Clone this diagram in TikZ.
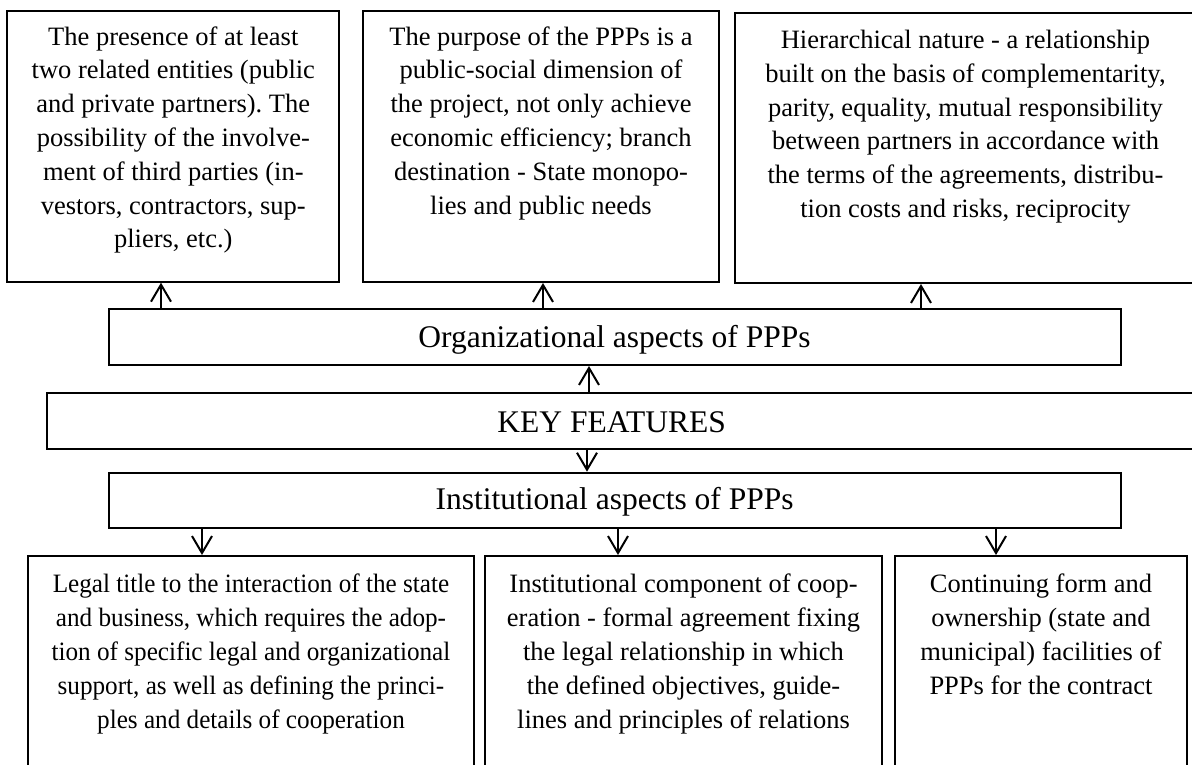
\documentclass[tikz,border=0pt]{standalone}
\usepackage{fontspec}
\setmainfont{Liberation Serif}
\newfontfamily\narrowserif[FakeStretch=0.95]{Liberation Serif}
\usetikzlibrary{arrows.meta}
\frenchspacing

\begin{document}
\begin{tikzpicture}[x=1pt,y=-1pt,
  frame/.style={draw, line width=2pt, inner sep=0pt},
  body/.style={align=center, inner sep=0pt, anchor=north,
    font=\fontsize{26.5}{33.8}\selectfont},
  narrowbody/.style={body, font=\narrowserif\fontsize{26.5}{33.8}\selectfont},
  head/.style={anchor=base, inner sep=0pt, font=\fontsize{31.5}{36}\selectfont},
  arr/.style={line width=2pt, -{Straight Barb[length=17pt,width=20pt]}}
]
\useasboundingbox (0,0) rectangle (1192,764);

% upper row of feature boxes
\node[frame, minimum width=332pt, minimum height=270.7pt] (t1) at (173.3,146.35) {};
\node[frame, minimum width=356.6pt, minimum height=271pt] (t2) at (541,146.5) {};
\node[frame, minimum width=461pt, minimum height=270.3pt] (t3) at (965.5,147.85) {};

\node[body] (t1text) at (173.3,21.3) {\strut The presence of at least\\two related entities (public\\and private partners). The\\possibility of the involve-\\ment of third parties (in-\\vestors, contractors, sup-\\pliers, etc.)};
\node[body] (t2text) at (541,21.3) {\strut The purpose of the PPPs is a\\public-social dimension of\\the project, not only achieve\\economic efficiency; branch\\destination - State monopo-\\lies and public needs};
\node[body] (t3text) at (965.5,24.6) {\strut Hierarchical nature - a relationship\\built on the basis of complementarity,\\parity, equality, mutual responsibility\\between partners in accordance with\\the terms of the agreements, distribu-\\tion costs and risks, reciprocity};

% central band
\node[frame, minimum width=1012pt, minimum height=56pt] (org) at (615,337) {};
\node[head] (orgtext) at (614.5,347.3) {Organizational aspects of PPPs};

\node[frame, minimum width=1163.3pt, minimum height=56pt] (key) at (628.35,421) {};
\node[head] (keytext) at (611.6,432.7) {KEY FEATURES};

\node[frame, minimum width=1012pt, minimum height=55.3pt] (inst) at (615,500.35) {};
\node[head] (insttext) at (614.6,509.3) {Institutional aspects of PPPs};

% lower row of feature boxes
\node[frame, minimum width=446pt, minimum height=224pt] (b1) at (251,668) {};
\node[frame, minimum width=397pt, minimum height=224pt] (b2) at (683.5,668) {};
\node[frame, minimum width=292pt, minimum height=224pt] (b3) at (1041,668) {};

\node[narrowbody] (b1text) at (251,569) {\strut Legal title to the interaction of the state\\and business, which requires the adop-\\tion of specific legal and organizational\\support, as well as defining the princi-\\ples and details of cooperation};
\node[body] (b2text) at (683.5,569) {\strut Institutional component of coop-\\eration - formal agreement fixing\\the legal relationship in which\\the defined objectives, guide-\\lines and principles of relations};
\node[body] (b3text) at (1041,569) {\strut Continuing form and\\ownership (state and\\municipal) facilities of\\PPPs for the contract};

% connector positions
\coordinate (u1) at (161,0);
\coordinate (u2) at (543,0);
\coordinate (u3) at (921,0);
\coordinate (u4) at (589,0);
\coordinate (d1) at (587,0);
\coordinate (d2) at (202,0);
\coordinate (d3) at (618,0);
\coordinate (d4) at (996,0);

\draw[arr] (u1 |- org.north) -- (u1 |- t1.south);
\draw[arr] (u2 |- org.north) -- (u2 |- t2.south);
\draw[arr] (u3 |- org.north) -- (u3 |- t3.south);
\draw[arr] (u4 |- key.north) -- (u4 |- org.south);
\draw[arr] (d1 |- key.south) -- (d1 |- inst.north);
\draw[arr] (d2 |- inst.south) -- (d2 |- b1.north);
\draw[arr] (d3 |- inst.south) -- (d3 |- b2.north);
\draw[arr] (d4 |- inst.south) -- (d4 |- b3.north);
\end{tikzpicture}
\end{document}
